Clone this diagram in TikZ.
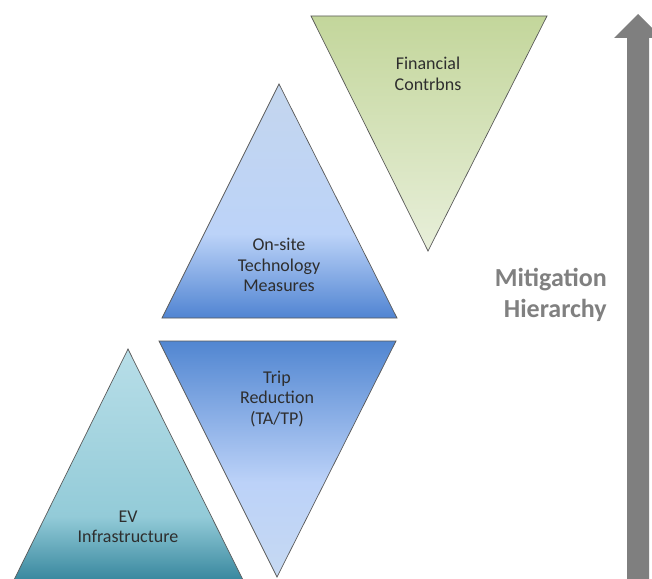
\documentclass[tikz,border=0pt]{standalone}
\usepackage{fontspec}
\setmainfont{Carlito}
\definecolor{fintop}{HTML}{C3D69B}
\definecolor{finbot}{HTML}{E8EFDA}
\definecolor{arrowgray}{HTML}{7F7F7F}
\pgfdeclareverticalshading{onsiteshade}{100bp}{color(0bp)=(rgb,255:red,80;green,132;blue,210); color(25bp)=(rgb,255:red,80;green,132;blue,210); color(43bp)=(rgb,255:red,188;green,211;blue,248); color(75bp)=(rgb,255:red,196;green,214;blue,238); color(100bp)=(rgb,255:red,196;green,214;blue,238)}
\pgfdeclareverticalshading{tripshade}{100bp}{color(0bp)=(rgb,255:red,198;green,217;blue,242); color(25bp)=(rgb,255:red,198;green,217;blue,242); color(45bp)=(rgb,255:red,188;green,210;blue,248); color(75bp)=(rgb,255:red,81;green,134;blue,209); color(100bp)=(rgb,255:red,81;green,134;blue,209)}
\pgfdeclareverticalshading{evshade}{100bp}{color(0bp)=(rgb,255:red,45;green,127;blue,151); color(25bp)=(rgb,255:red,45;green,127;blue,151); color(40bp)=(rgb,255:red,147;green,203;blue,216); color(75bp)=(rgb,255:red,184;green,222;blue,232); color(100bp)=(rgb,255:red,184;green,222;blue,232)}
\begin{document}
\begin{tikzpicture}[x=1pt,y=-1pt,
  tri/.style={draw=black!65,line width=0.7pt,line join=miter},
  lbl/.style={align=center,text=black!82,font=\fontsize{18}{20.5}\selectfont,inner sep=0pt},
  hier/.style={align=right,text=black!50,font=\bfseries\fontsize{26}{31}\selectfont,inner sep=0pt}]
\useasboundingbox (0,0) rectangle (652,578);
\clip (0,0) rectangle (652,578);
% Financial contributions (inverted)
\shade[tri,top color=fintop,bottom color=finbot] (311,16) -- (547,16) -- (428,251) -- cycle;
\node[lbl] (fin) at (428,74) {Financial\\Contrbns};
% On-site technology measures
\shade[tri,shading=onsiteshade] (279,84) -- (397,318) -- (162,318) -- cycle;
\node[lbl] (tech) at (279,265) {On-site\\Technology\\Measures};
% Trip reduction (inverted)
\shade[tri,shading=tripshade] (159,341) -- (396,341) -- (277,577) -- cycle;
\node[lbl] (trip) at (277,399) {Trip\\Reduction\\(TA/TP)};
% EV infrastructure
\shade[tri,shading=evshade] (128,349) -- (247,588) -- (10,588) -- cycle;
\node[lbl] (ev) at (128,527) {EV\\Infrastructure};
% Arrow
\fill[arrowgray] (638,14) -- (662,38) -- (649,38) -- (649,590) -- (627,590) -- (627,38) -- (614,38) -- cycle;
\coordinate (arrowtip) at (638,14);
\node[hier,anchor=east] (mh) at (607,295) {Mitigation\\Hierarchy};
\end{tikzpicture}
\end{document}
